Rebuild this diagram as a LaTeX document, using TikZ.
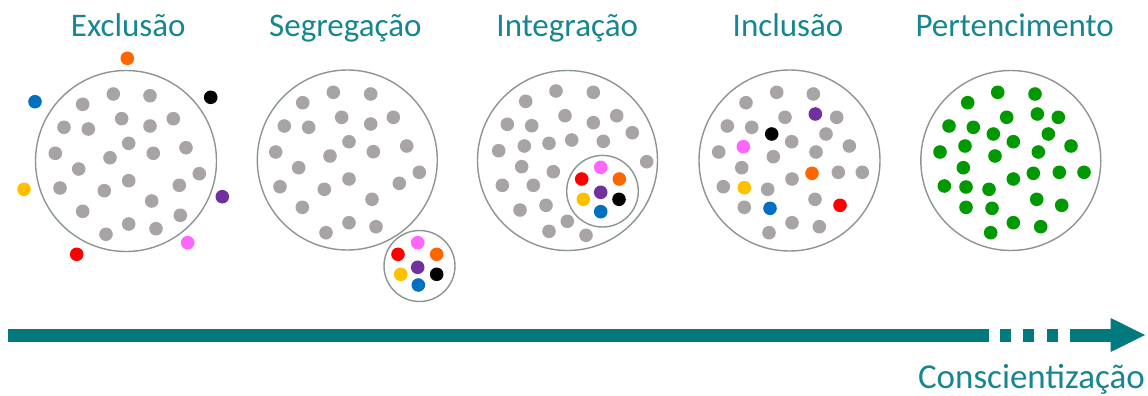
\documentclass[tikz,border=0pt]{standalone}
\usepackage{fontspec}
\setmainfont{Carlito}
\definecolor{titleteal}{RGB}{22,134,144}
\definecolor{arrowteal}{RGB}{0,122,124}
\definecolor{ringgray}{RGB}{140,150,144}
\definecolor{dotgray}{RGB}{168,164,164}
\definecolor{dorange}{RGB}{255,102,0}
\definecolor{dblue}{RGB}{0,112,192}
\definecolor{dyellow}{RGB}{255,192,0}
\definecolor{dpurple}{RGB}{112,48,160}
\definecolor{dpink}{RGB}{255,102,255}
\definecolor{dred}{RGB}{255,0,0}
\definecolor{dgreen}{RGB}{0,153,0}
\tikzset{
  ring/.style={draw=ringgray,line width=1.4pt,fill=white},
  title/.style={anchor=base,text=titleteal,font=\fontsize{33}{38}\selectfont},
  gdot/.style={fill=dotgray},
}
\newcommand{\dotr}{6.8}
\begin{document}
\begin{tikzpicture}[x=1pt,y=-1pt]
\useasboundingbox (0,0) rectangle (1148,396);
% titles
\node[title] (t1) at (128.3,36.5) {Exclusão};
\node[title] (t2) at (345.3,36.5) {Segregação};
\node[title] (t3) at (567.2,36.5) {Integração};
\node[title] (t4) at (788,36.5) {Inclusão};
\node[title] (t5) at (1014.7,36.5) {Pertencimento};
% circle 1
\draw[ring] (126,161) circle (90.5);
\foreach \x/\y in {113.3/94,150/95.7,82.7/104.3,121.7/118.7,150/126,173.3/118.7,64/127.3,88.3/129,128.7/143.3,153.3/153.3,186/147.7,55.3/153.3,110/157.7,78.7/169,199.3/173.7,128.7/180.7,60/188,104.3/190.7,179.3/185.3,151.7/201,82.7/211.3,180.3/215.3,128.7/224,156/228.7,106/234.3}
  \fill[gdot] (\x,\y) circle (\dotr);
\fill[dorange] (127.3,58.3) circle (\dotr);
\fill[dblue] (35,101.7) circle (\dotr);
\fill[black] (210.7,97.3) circle (\dotr);
\fill[dyellow] (24,189.3) circle (\dotr);
\fill[dpurple] (222.3,196.7) circle (\dotr);
\fill[dpink] (187.7,242.7) circle (\dotr);
\fill[dred] (76.7,254.3) circle (\dotr);
% circle 2
\draw[ring] (347.3,160) circle (90);
\foreach \x/\y in {333.3/92.3,370.7/94,302.7/102.7,341.7/117.3,370.7/124,393.3/117.3,284.3/126,308.7/127.3,349/141.7,373.3/151.7,406.7/146,275.7/152,330/156,298.7/167.7,419.3/172.3,349/179,399.3/183.3,280/186.7,324.3/189.3,372/199.3,302.3/207.3,349/222.7,376/226.7,326/232.7}
  \fill[gdot] (\x,\y) circle (\dotr);
\draw[ring] (419.5,266) circle (35.5);
\fill[dpink] (417.7,242.7) circle (\dotr);
\fill[dred] (398,254.3) circle (\dotr);
\fill[dorange] (436.7,254.3) circle (\dotr);
\fill[dpurple] (417.7,267.3) circle (\dotr);
\fill[dyellow] (400.7,274.3) circle (\dotr);
\fill[black] (436.7,274.3) circle (\dotr);
\fill[dblue] (418.3,285) circle (\dotr);
% circle 3
\draw[ring] (567.5,160.5) circle (90);
\foreach \x/\y in {556/91,593.3/92.3,525.7/101.3,565/115.7,593.3/122.7,616.7/115.7,507.3/124.3,531.7/125.7,549/143.3,571.7/140,603.3/141.3,632.3/132.7,498.7/150.7,524.3/146,521.7/166.7,553.3/171.7,646.7/161.7,502.3/185.3,533.3/185.3,520/210,546/205.3,567.3/221.3,549/231.3,586/235.3}
  \fill[gdot] (\x,\y) circle (\dotr);
\draw[ring] (602.5,191.2) circle (35.8);
\fill[dpink] (600.7,167.3) circle (\dotr);
\fill[dred] (581.7,179) circle (\dotr);
\fill[dorange] (619.3,179) circle (\dotr);
\fill[dpurple] (600.7,192.3) circle (\dotr);
\fill[dyellow] (583.3,199.3) circle (\dotr);
\fill[black] (619,199.3) circle (\dotr);
\fill[dblue] (600.7,211.7) circle (\dotr);
% circle 4
\draw[ring] (789.5,160.5) circle (90.5);
\foreach \x/\y in {776.7/92.3,813.3/94,746/102.7,785/117.3,836.7/117.3,727.3/126,751.7/127.3,826/134,791.7/141.7,849.3/146,718.7/152,816/152,773.3/156.7,741.7/167.7,838.3/172.3,862.3/172.3,792/179,723.3/186.7,767.7/189.3,815/199.3,744.3/207.3,792/222.7,819.3/226.7,769/232.7}
  \fill[gdot] (\x,\y) circle (\dotr);
\fill[dpurple] (815.3,114) circle (\dotr);
\fill[black] (771.7,134) circle (\dotr);
\fill[dpink] (743.3,146.7) circle (\dotr);
\fill[dorange] (812,173.3) circle (\dotr);
\fill[dyellow] (744.3,187.7) circle (\dotr);
\fill[dred] (840,205.3) circle (\dotr);
\fill[dblue] (770,208.3) circle (\dotr);
% circle 5
\draw[ring] (1010.8,160.5) circle (90);
\foreach \x/\y in {997.7/92.3,1035/94,967.7/102.7,1006.7/117.3,1037.3/114,1058.3/117.3,949/126,973.3/127.3,993.3/134,1048.3/134,1013.3/141.7,965/146,1071/146,940/152,1038.3/152,995/156,963.3/167.7,1033.3/173.3,1059.3/172.3,1084/172.3,1013.3/179,944.3/186,966/187,989/189.3,1036.7/199.3,1061.7/205.3,966/207.3,992/208.3,1013.3/222.7,1040.7/226.7,990.7/232.7}
  \fill[dgreen] (\x,\y) circle (\dotr);
% arrow
\coordinate (a0) at (8,335);
\coordinate (a1) at (989,335);
\coordinate (a2) at (1070,335);
\coordinate (a3) at (1111,335);
\coordinate (tip) at (1145,335);
\fill[arrowteal] (8,328.5) rectangle (989,341.5);
\foreach \s in {1000,1023,1046.5}
  \fill[arrowteal] (\s,328.5) rectangle ++(11.2,13);
\fill[arrowteal] (1070,328.5) rectangle (1112,341.5);
\fill[arrowteal] (1110.7,318) -- (tip) -- (1110.7,352) -- cycle;
\node[anchor=base east,text=titleteal,font=\fontsize{35}{40}\selectfont,inner sep=0pt] (c) at (1145,388.5) {Conscientização};
\end{tikzpicture}
\end{document}
